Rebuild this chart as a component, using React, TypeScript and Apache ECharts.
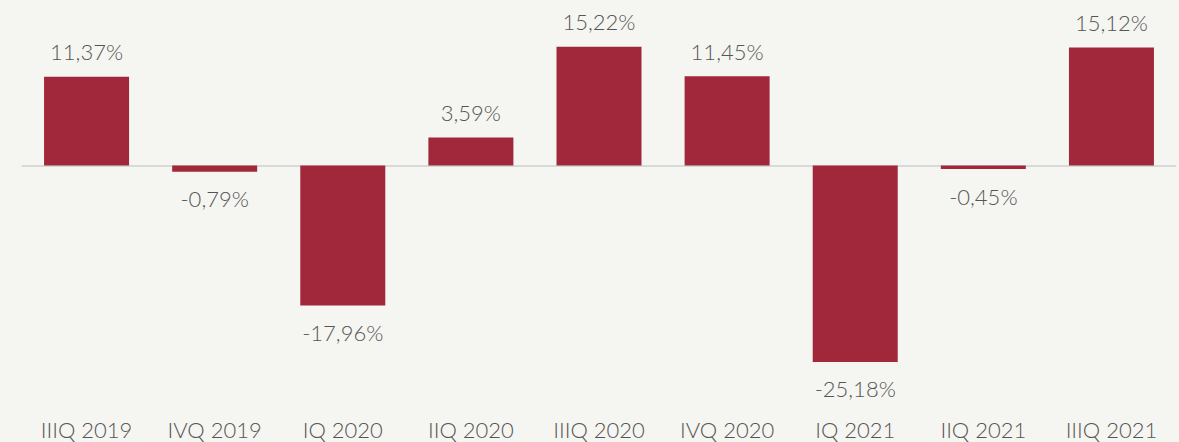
import React, { useEffect, useRef } from "react";
import * as echarts from "echarts";

const categories = ["IIIQ 2019", "IVQ 2019", "IQ 2020", "IIQ 2020", "IIIQ 2020", "IVQ 2020", "IQ 2021", "IIQ 2021", "IIIQ 2021"];
const values = [11.37, -0.79, -17.96, 3.59, 15.22, 11.45, -25.18, -0.45, 15.12];

const FONT = "Lato";
const TEXT = "#555555";

export default function App() {
  const ref = useRef<HTMLDivElement>(null);
  useEffect(() => {
    if (!ref.current) return;
    const chart = echarts.init(ref.current, null, { renderer: "svg" });
    chart.setOption({
      animation: false,
      backgroundColor: "#f5f5f1",
      grid: { left: 22.5, right: 3.5, top: 9.5, height: 374.4 },
      xAxis: [
        {
          type: "category",
          data: categories,
          position: "bottom",
          axisLine: { show: false, onZero: false },
          axisTick: { show: false },
          axisLabel: { margin: 35, color: TEXT, fontSize: 22, fontFamily: FONT, fontWeight: 300, interval: 0 },
        },
        {
          type: "category",
          data: categories,
          position: "bottom",
          axisLine: { show: true, onZero: true, lineStyle: { color: "#d9d9d9", width: 2 } },
          axisTick: { show: false },
          axisLabel: { show: false },
        },
      ],
      yAxis: {
        type: "value",
        min: -28,
        max: 20,
        show: false,
        splitLine: { show: false },
      },
      series: [
        {
          type: "bar",
          xAxisIndex: 0,
          barWidth: 85,
          itemStyle: { color: "#a0283a" },
          data: values.map((v) => ({
            value: v,
            label: {
              show: true,
              position: v >= 0 ? "top" : "bottom",
              distance: v >= 0 ? 14 : 16,
              formatter: () => v.toFixed(2).replace(".", ",") + "%",
              color: TEXT,
              fontSize: 22,
              fontFamily: FONT,
              fontWeight: 300,
            },
          })),
        },
      ],
    });
    return () => chart.dispose();
  }, []);
  return <div ref={ref} style={{ position: "absolute", left: 0, top: 0, width: 1179, height: 442 }} />;
}
